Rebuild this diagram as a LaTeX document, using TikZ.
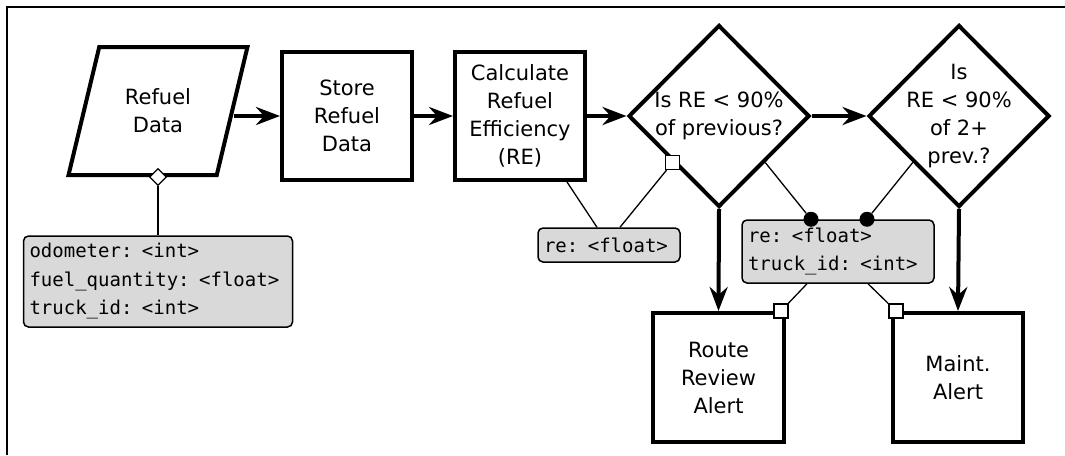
\documentclass[tikz,border=0pt]{standalone}
\usepackage{fontspec}
\setmainfont{DejaVu Sans}
\setmonofont{DejaVu Sans Mono}
\usetikzlibrary{arrows.meta,shapes.geometric}

\begin{document}
\begin{tikzpicture}[x=1pt, y=-1pt, every node/.style={font=\fontsize{21}{28}\selectfont},
        flow/.style={line width=4pt, -{Stealth[length=24pt,width=18pt,inset=8pt]}},
        link/.style={line width=1.3pt},
        process/.style={rectangle, draw, line width=4pt, minimum width=130pt, minimum height=128pt, align=center, inner sep=2pt},
        decision/.style={diamond, draw, line width=4pt, minimum width=181pt, minimum height=182pt, inner sep=0pt},
        fields/.style={rectangle, draw, line width=1.5pt, fill=black!15, rounded corners=5pt, align=left, inner sep=6pt, font=\ttfamily\fontsize{19}{28.5}\selectfont},
        opendia/.style={diamond, draw, fill=white, line width=1.2pt, minimum size=17pt, inner sep=0pt},
        opensq/.style={rectangle, draw, fill=white, line width=1.2pt, minimum size=14pt, inner sep=0pt},
        dot/.style={circle, fill=black, minimum size=15pt, inner sep=0pt}]
        \useasboundingbox (0,0) rectangle (1065,455);
        \draw[line width=2.5pt] (7,455) -- (7,7) -- (1065,7);

        % main flow
        \node[trapezium, draw, line width=4pt, trapezium left angle=68.7, trapezium right angle=111.3, trapezium stretches=true, minimum width=180pt, minimum height=128pt, align=center, inner sep=0pt] (data) at (158,111) {Refuel\\Data};
        \node[process] (store) at (347,116) {Store\\Refuel\\Data};
        \node[process] (calc) at (520,116) {Calculate\\Refuel\\Efficiency\\(RE)};
        \node[decision, label={[align=center]center:{Is RE < 90\%\\of previous?}}] (check1) at (719,116) {};
        \node[decision, label={[align=center]center:{Is\\RE < 90\%\\of 2+\\prev.?}}] (check2) at (959,116) {};
        \node[process, minimum width=131pt, minimum height=129pt] (route) at (718.5,377.5) {Route\\Review\\Alert};
        \node[process, minimum height=129pt] (maint) at (958,377.5) {Maint.\\Alert};

        \draw[flow] (data.east |- store.west) -- (store.west);
        \draw[flow] (store) -- (calc);
        \draw[flow] (calc) -- (check1.west);
        \draw[flow] (check1.east) -- (check2.west);
        \draw[flow] (check1.south) -- (route.north);
        \draw[flow] (check2.south) -- (maint.north);

        % data attached to the steps
        \node[fields, text width=257pt, minimum height=91pt] (fields1) at (158,281.5) {odometer: <int>\\fuel\_quantity: <float>\\truck\_id: <int>};
        \node[fields, text width=130pt, minimum height=34pt] (fields2) at (609,245) {re: <float>};
        \node[fields, text width=180pt, minimum height=63pt] (fields3) at (838,251.5) {re: <float>\\truck\_id: <int>};

        \node[opendia] (hasfields) at (data.south) {};
        \draw[link] (hasfields.south) -- (fields1.north);

        \node[opensq] (sq1) at (check1.south west) {};
        \draw[link] ([xshift=-12pt]fields2.north) -- ([xshift=-20pt]calc.south east);
        \draw[link] ([xshift=11pt]fields2.north) -- (sq1);

        \node[dot] (dot1) at ([xshift=-27pt]fields3.north) {};
        \node[dot] (dot2) at ([xshift=29pt]fields3.north) {};
        \draw[link] (dot1) -- (check1.south east);
        \draw[link] (dot2) -- (check2.south west);

        \node[opensq] (sq2) at ([xshift=-5pt]route.north east) {};
        \node[opensq] (sq3) at ([xshift=5pt]maint.north west) {};
        \draw[link] ([xshift=-31pt]fields3.south) -- (sq2);
        \draw[link] ([xshift=30pt]fields3.south) -- (sq3);
    \end{tikzpicture}
\end{document}
